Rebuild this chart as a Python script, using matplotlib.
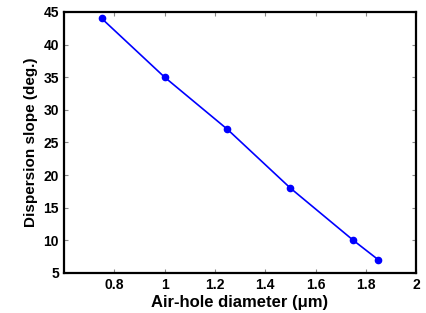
import matplotlib
matplotlib.use("Agg")
import matplotlib.pyplot as plt

diameter = [0.75, 1.0, 1.25, 1.5, 1.75, 1.85]
slope = [44, 35, 27, 18, 10, 7]
xticks = [0.8, 1, 1.2, 1.4, 1.6, 1.8, 2]
xlabels = ["0.8", "1", "1.2", "1.4", "1.6", "1.8", "2"]
yticks = [5, 10, 15, 20, 25, 30, 35, 40, 45]

plt.rcParams['font.family'] = ['Liberation Sans', 'DejaVu Sans']

fig = plt.figure(figsize=(4.26, 3.13), dpi=100)
ax = fig.add_axes([0.150, 0.128, 0.827, 0.834])

ax.plot(diameter, slope, color='#0000ff', linewidth=1.2, marker='o', markersize=4.5)

ax.set_xlim(0.6, 2.0)
ax.set_ylim(5, 45)
ax.set_xticks(xticks)
ax.set_xticklabels(xlabels)
ax.set_yticks(yticks)
ax.tick_params(direction='in', top=True, right=True, length=3, width=0.8, labelsize=10, colors='#888888', labelcolor='black')
for lab in ax.get_xticklabels() + ax.get_yticklabels():
    lab.set_fontweight('bold')
for s in ax.spines.values():
    s.set_linewidth(1.6)

ax.set_xlabel("Air-hole diameter (\u03bcm)", fontsize=12, fontweight='bold', labelpad=2)
ax.set_ylabel("Dispersion slope (deg.)", fontsize=11, fontweight='bold', labelpad=4)

fig.savefig("out.png", dpi=100)
